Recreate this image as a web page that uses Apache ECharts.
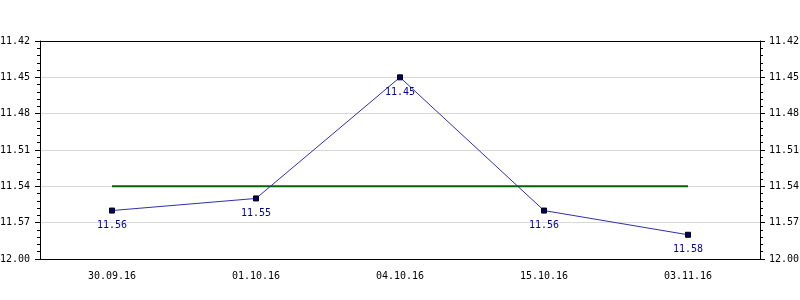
<!DOCTYPE html>
<html>
<head>
<meta charset="utf-8">
<script src="https://cdn.jsdelivr.net/npm/echarts@6/dist/echarts.min.js"></script>
<style>html,body{margin:0;padding:0;background:#fff}#c{width:800px;height:300px}</style>
</head>
<body>
<div id="c"></div>
<script>
const categories = ["30.09.16", "01.10.16", "04.10.16", "15.10.16", "03.11.16"];
const priceValues = [11.56, 11.55, 11.45, 11.56, 11.58];
const levelValues = [11.54, 11.54, 11.54, 11.54, 11.54];
const yTickLabels = ["11.42", "11.45", "11.48", "11.51", "11.54", "11.57", "12.00"];
const yMin = 11.42, yMax = 11.60, yStep = 0.03;

const FONT = "DejaVu Sans Mono";
function yLabel(v) {
  const i = Math.round((v - yMin) / yStep);
  return yTickLabels[i] !== undefined ? yTickLabels[i] : "";
}
function yAxisCfg(pos) {
  return {
    type: "value", position: pos, inverse: true,
    min: yMin, max: yMax, interval: yStep,
    axisLine: { show: true, lineStyle: { color: "#000", width: 1 } },
    axisTick: { show: true, inside: false, length: 5, lineStyle: { color: "#000" } },
    minorTick: { show: true, splitNumber: 5, length: 3, lineStyle: { color: "#000" } },
    axisLabel: { formatter: yLabel, fontFamily: FONT, fontSize: 10, color: "#000", margin: pos === "left" ? 10 : 9 },
    splitLine: { show: pos === "left", showMinLine: false, showMaxLine: false, lineStyle: { color: "#d8d8d8", width: 1 } }
  };
}
const chart = echarts.init(document.getElementById("c"), null, { renderer: "canvas" });
chart.setOption({
  animation: false,
  backgroundColor: "#fff",
  grid: { left: 40, right: 40, top: 41, bottom: 41, containLabel: false, outerBoundsMode: "none" },
  xAxis: [{
    type: "category", data: categories, boundaryGap: true, position: "bottom",
    axisLine: { lineStyle: { color: "#000" } },
    axisTick: { alignWithLabel: true, length: 4, lineStyle: { color: "#000" } },
    axisLabel: { fontFamily: FONT, fontSize: 10, color: "#000", margin: 12 },
    splitLine: { show: false }
  }, {
    type: "category", data: categories, position: "top",
    axisLine: { show: true, lineStyle: { color: "#000" } },
    axisTick: { show: false }, axisLabel: { show: false }, splitLine: { show: false }
  }],
  yAxis: [yAxisCfg("left"), yAxisCfg("right")],
  series: [{
    type: "line", data: levelValues, xAxisIndex: 0, yAxisIndex: 0,
    symbol: "none", lineStyle: { color: "#006600", width: 2 }, z: 2
  }, {
    type: "line", data: priceValues, xAxisIndex: 0, yAxisIndex: 0,
    symbol: "rect", symbolSize: 5,
    itemStyle: { color: "#000066", borderColor: "#000", borderWidth: 1 },
    lineStyle: { color: "#3030b0", width: 1 },
    label: {
      show: true, position: "bottom", distance: 7,
      fontFamily: FONT, fontSize: 10, color: "#0000a0",
      formatter: p => p.value.toFixed(2)
    },
    z: 3
  }]
});
</script>
</body>
</html>
